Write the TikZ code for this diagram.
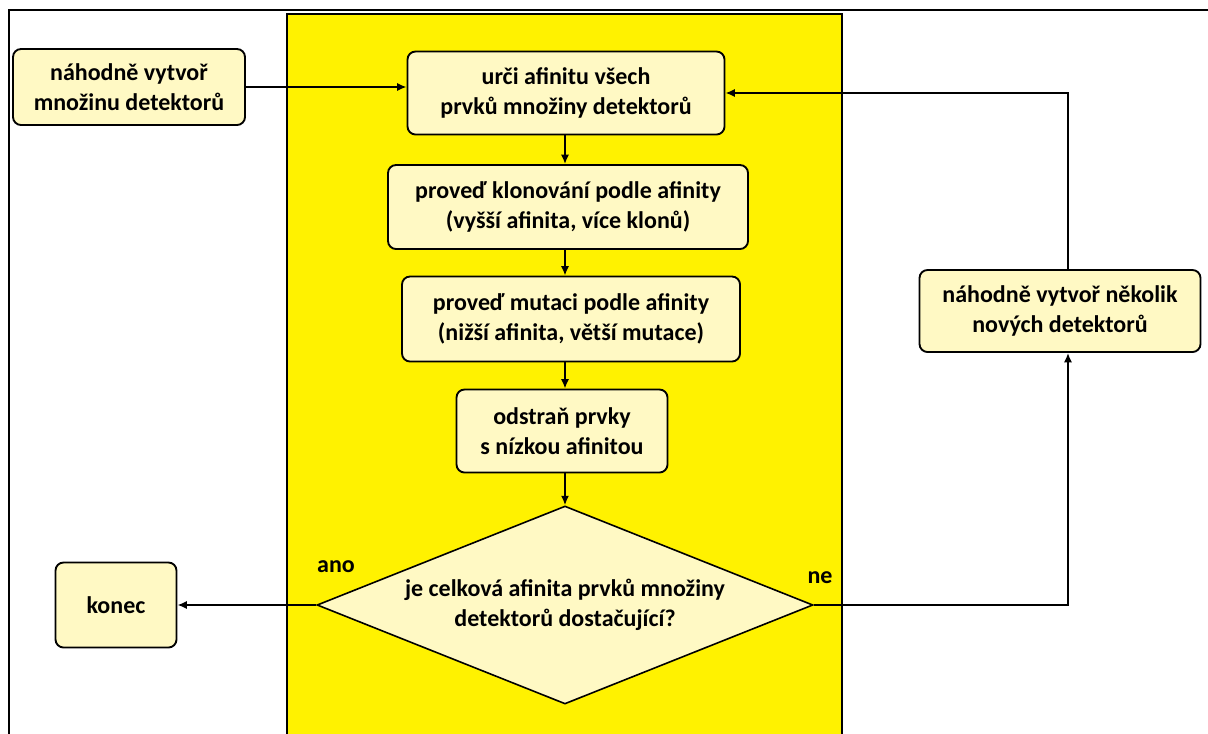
\documentclass[tikz,border=0pt]{standalone}
\usepackage{fontspec}
\setmainfont{Carlito}
\usepackage{tikz}
\usetikzlibrary{%
  arrows.meta,%
  shapes.geometric,%
  positioning,%
}
\definecolor{pagelemon}{RGB}{255,242,0}
\definecolor{boxcream}{RGB}{255,249,196}

\begin{document}
\begin{tikzpicture}[x=0.75pt, y=-0.75pt,
    font=\bfseries\fontsize{18}{22.5}\selectfont,
    stepbox/.style={fill=boxcream, draw=black, line width=1.4pt, rounded corners=6pt, align=center, inner sep=0pt},
    question/.style={diamond, aspect=2.5, fill=boxcream, draw=black, line width=1.2pt, align=center, inner sep=0pt},
    flow/.style={-{Latex[length=7pt, width=6pt]}, line width=1.3pt}]
      \useasboundingbox (0,0) rectangle (1208,733);
      % frame and yellow band
      \draw [line width=1.6pt] (9,745) -- (9,10) -- (1220,10);
      \draw [fill=pagelemon, line width=1.6pt] (287,745) -- (287,14) -- (842,14) -- (842,745);
      \node [stepbox, minimum width=232*0.75pt, minimum height=76*0.75pt] (start) at (129,87) {náhodně vytvoř\\množinu detektorů};
      \node [stepbox, minimum width=317*0.75pt, minimum height=83*0.75pt] (affinity) at (566,93) {urči afinitu všech\\prvků množiny detektorů};
      \node [stepbox, minimum width=360*0.75pt, minimum height=84*0.75pt] (cloning) at (568,207) {proveď klonování podle afinity\\(vyšší afinita, více klonů)};
      \node [stepbox, minimum width=338*0.75pt, minimum height=85*0.75pt] (mutation) at (571,319) {proveď mutaci podle afinity\\(nižší afinita, větší mutace)};
      \node [stepbox, minimum width=211*0.75pt, minimum height=83*0.75pt] (remove) at (562,431) {odstraň prvky\\s nízkou afinitou};
      \node [question, minimum width=496*0.75pt, minimum height=198*0.75pt] (enough) at (565,605) {je celková afinita prvků množiny\\detektorů dostačující?};
      \node [stepbox, minimum width=121*0.75pt, minimum height=85*0.75pt] (finish) at (116,605) {konec};
      \node [stepbox, minimum width=281*0.75pt, minimum height=82*0.75pt] (fresh) at (1060,311) {náhodně vytvoř několik\\nových detektorů};
      \node (yes) at (336,567) {ano};
      \node (no) at (820,578) {ne};
      % connectors
      \draw [flow] (start.east) -- (start.east -| affinity.west);
      \draw [flow] (affinity.south -| enough.north) -- (cloning.north -| enough.north);
      \draw [flow] (cloning.south -| enough.north) -- (mutation.north -| enough.north);
      \draw [flow] (mutation.south -| enough.north) -- (remove.north -| enough.north);
      \draw [flow] (remove.south -| enough.north) -- (enough.north);
      \draw [flow] (enough.west) -- (finish.east);
      \draw [flow] (enough.east) -| (fresh.south -| 1068,0);
      \draw [flow] (fresh.north -| 1068,0) |- (affinity.east);
    \end{tikzpicture}
\end{document}
